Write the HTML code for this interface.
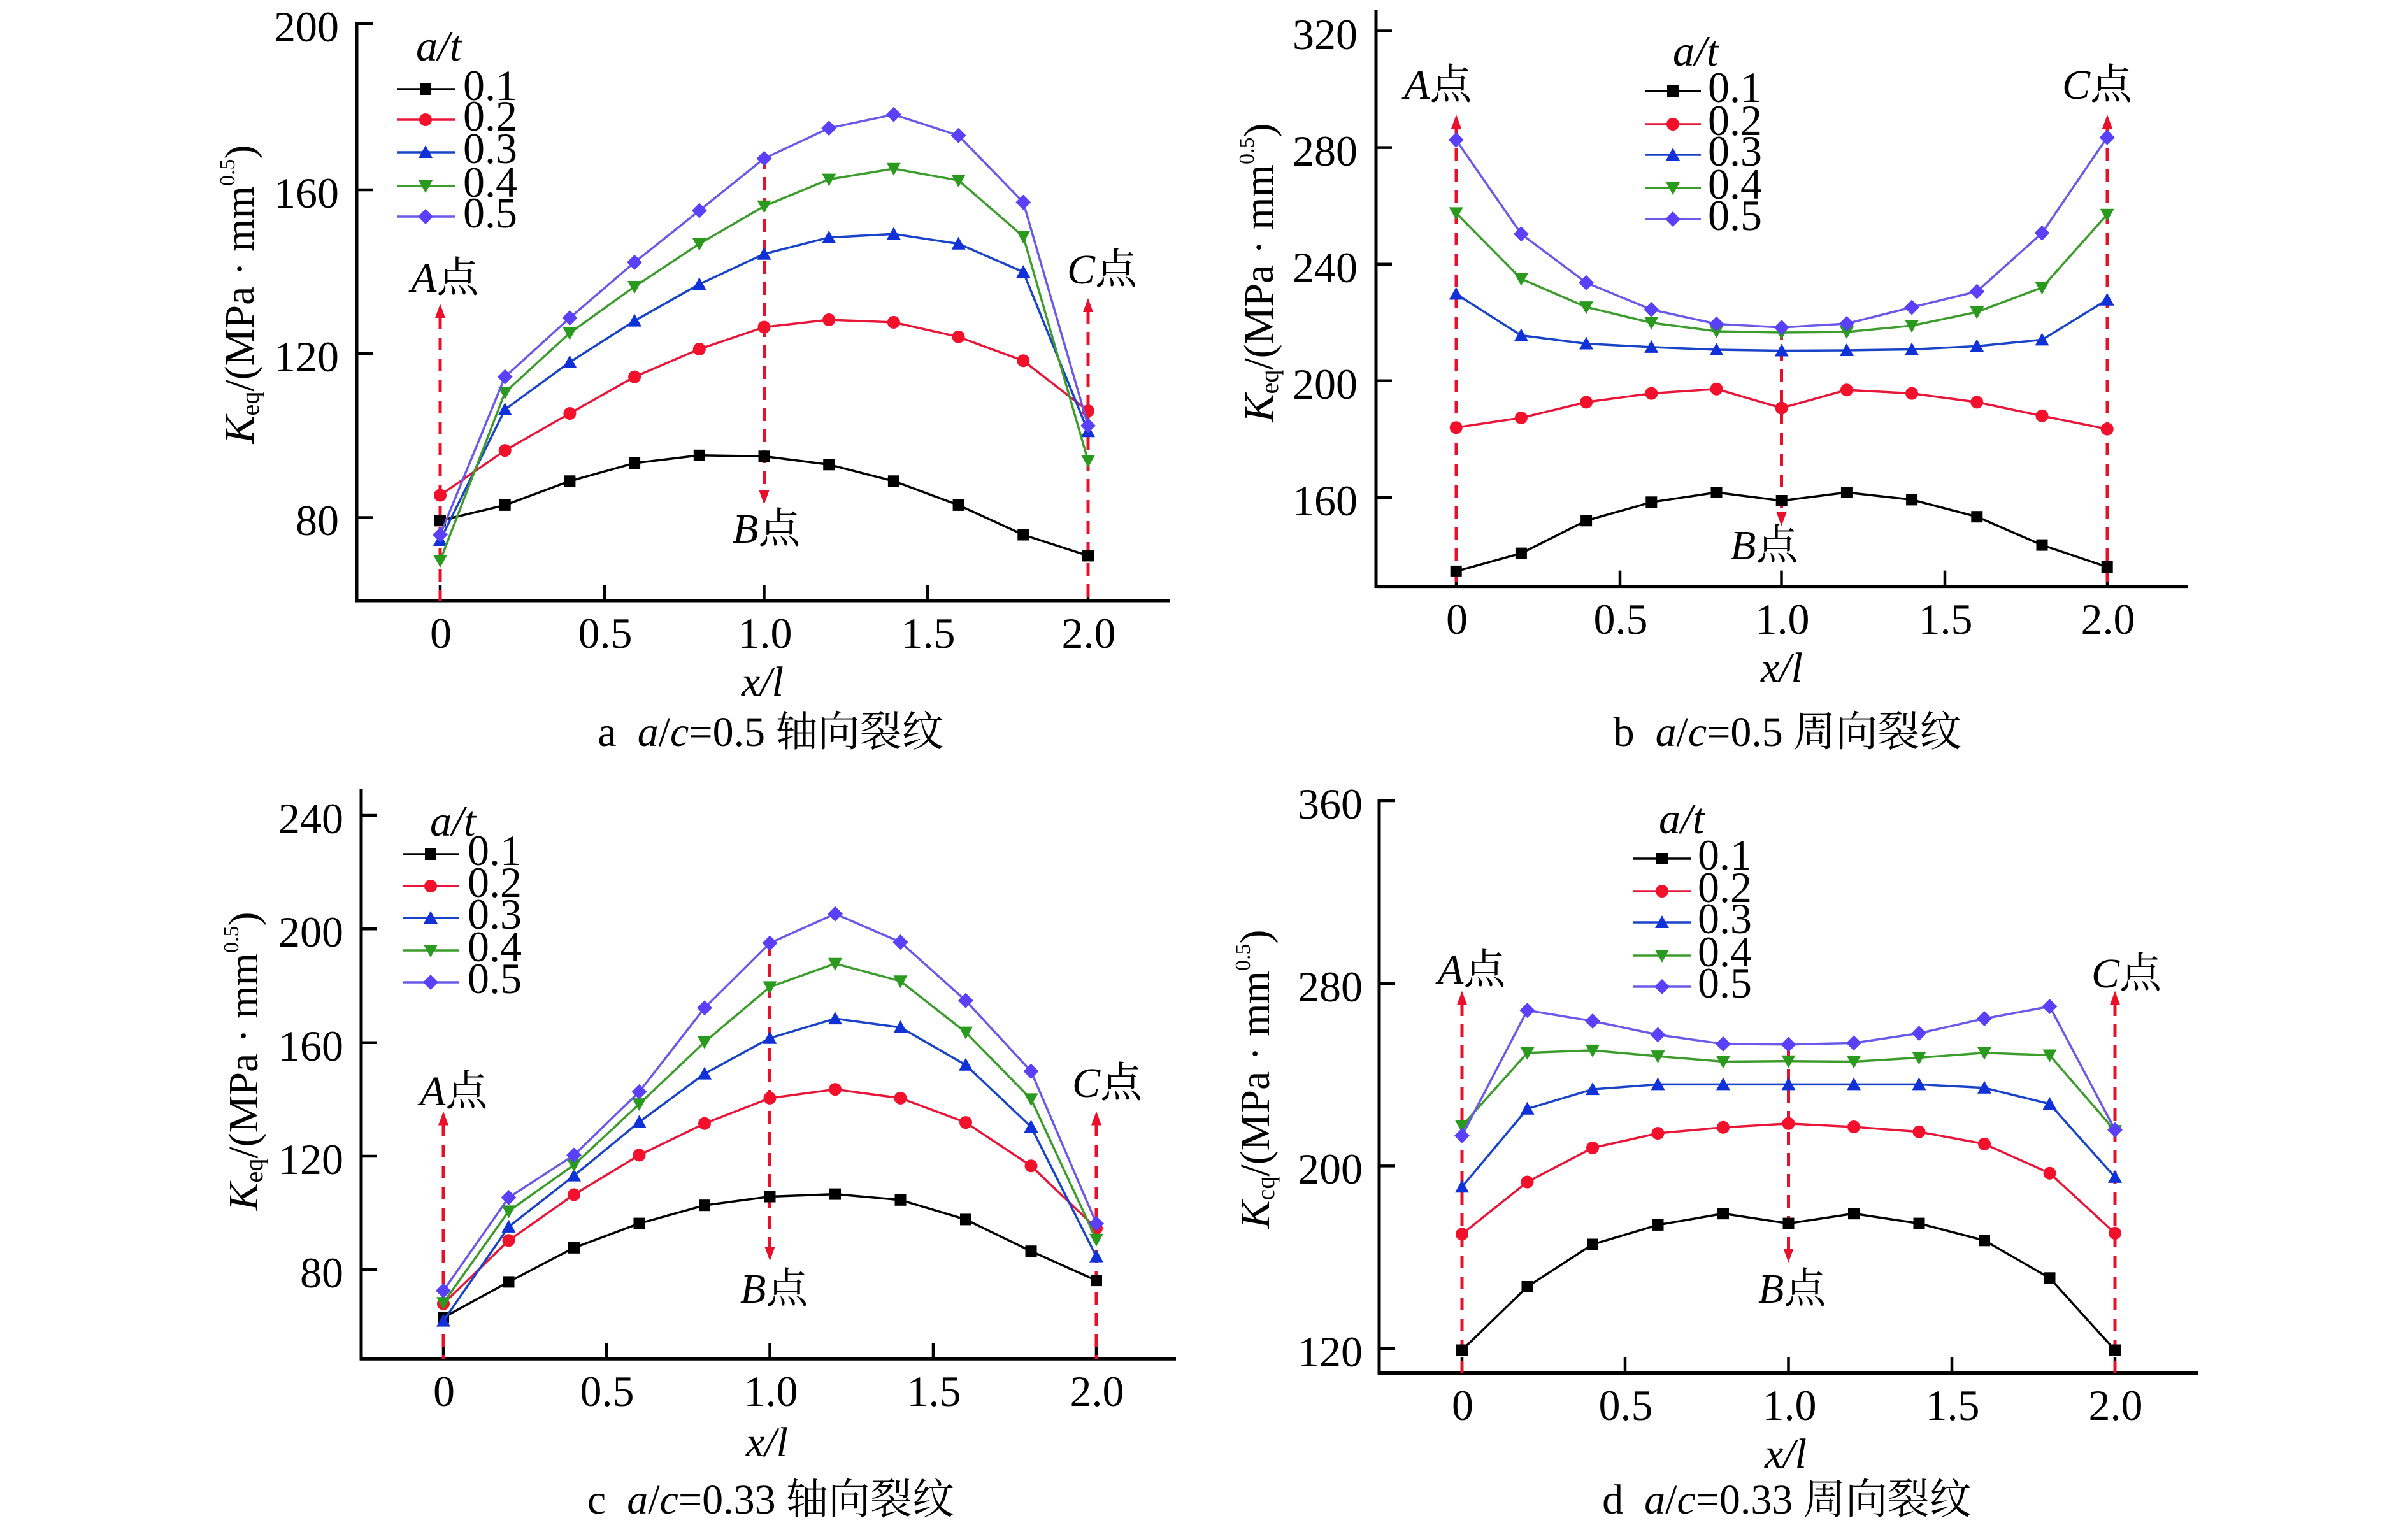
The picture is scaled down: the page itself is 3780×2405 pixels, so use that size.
<!DOCTYPE html>
<html><head><meta charset="utf-8"><style>
html,body{margin:0;padding:0;background:#fff;}
svg{display:block;}
text{font-family:"Liberation Serif","Noto Serif CJK SC",serif;fill:#000;}
.tk{font-size:68px;}
.lg{font-size:68px;}
.an{font-size:66px;}
.cap{font-size:66px;}
.yl{font-size:66px;}
.ax{stroke:#000;stroke-width:5;fill:none;}
.tick{stroke:#000;stroke-width:4.5;}
.dash{stroke:#e8102a;stroke-width:5;stroke-dasharray:20 13;fill:none;}
.arr{fill:#e8102a;}
.s1{stroke:#000;stroke-width:3.5;fill:none;marker-start:url(#mS);marker-mid:url(#mS);marker-end:url(#mS);}
.s2{stroke:#e8173a;stroke-width:3.5;fill:none;marker-start:url(#mC);marker-mid:url(#mC);marker-end:url(#mC);}
.s3{stroke:#1a44c8;stroke-width:3.5;fill:none;marker-start:url(#mT);marker-mid:url(#mT);marker-end:url(#mT);}
.s4{stroke:#3c9c2c;stroke-width:3.5;fill:none;marker-start:url(#mV);marker-mid:url(#mV);marker-end:url(#mV);}
.s5{stroke:#6a5ae8;stroke-width:3.5;fill:none;marker-start:url(#mD);marker-mid:url(#mD);marker-end:url(#mD);}
</style></head><body>
<svg xmlns="http://www.w3.org/2000/svg" width="3780" height="2405" viewBox="0 0 3780 2405">
<defs>
<marker id="mS" markerUnits="userSpaceOnUse" markerWidth="24" markerHeight="24" refX="12" refY="12" style="overflow:visible"><rect x="3" y="3" width="18" height="18" fill="#000"/></marker>
<marker id="mC" markerUnits="userSpaceOnUse" markerWidth="24" markerHeight="24" refX="12" refY="12" style="overflow:visible"><circle cx="12" cy="12" r="10" fill="#f2102a"/></marker>
<marker id="mT" markerUnits="userSpaceOnUse" markerWidth="24" markerHeight="24" refX="12" refY="12" style="overflow:visible"><path d="M12,1 L23,21 L1,21 Z" fill="#1030d8"/></marker>
<marker id="mV" markerUnits="userSpaceOnUse" markerWidth="24" markerHeight="24" refX="12" refY="12" style="overflow:visible"><path d="M1,3 L23,3 L12,23 Z" fill="#2a9a1e"/></marker>
<marker id="mD" markerUnits="userSpaceOnUse" markerWidth="24" markerHeight="24" refX="12" refY="12" style="overflow:visible"><path d="M12,0 L24,12 L12,24 L0,12 Z" fill="#5a40f8"/></marker>
</defs>
<rect x="0" y="0" width="3780" height="2405" fill="#fff"/>

<!-- ================= Panel a ================= -->
<g>
<path class="ax" d="M560,35 L560,945 M558,943 L1836,943"/>
<path class="tick" d="M560,37 H585 M560,298 H585 M560,555 H585 M560,812.5 H585 M691,943 V918 M949,943 V918 M1199.5,943 V918 M1456,943 V918 M1708,943 V918"/>
<g class="tk" text-anchor="end">
<text x="532" y="65">200</text><text x="532" y="326">160</text><text x="532" y="583">120</text><text x="532" y="840">80</text>
</g>
<g class="tk" text-anchor="middle">
<text x="692" y="1017">0</text><text x="950" y="1017">0.5</text><text x="1201" y="1017">1.0</text><text x="1457" y="1017">1.5</text><text x="1709" y="1017">2.0</text>
</g>
<text class="an" x="1197" y="1092" text-anchor="middle" font-style="italic">x/l</text>
<text class="cap" x="1210" y="1171" text-anchor="middle">a&#160;&#160;<tspan font-style="italic">a</tspan>/<tspan font-style="italic">c</tspan>=0.5 轴向裂纹</text>
<text class="yl" transform="translate(398,462) rotate(-90)" text-anchor="middle"><tspan font-style="italic">K</tspan><tspan font-size="40" dy="8">eq</tspan><tspan dy="-8">/(MPa · mm</tspan><tspan font-size="34" dy="-30">0.5</tspan><tspan dy="30">)</tspan></text>
<!-- arrows -->
<path class="dash" d="M691,497 V943 M1708,488 V943 M1199.5,245 V772"/>
<path class="arr" d="M691,477 L683,499 L699,499 Z M1708,468 L1700,490 L1716,490 Z M1199.5,792 L1191.5,770 L1207.5,770 Z"/>
<text class="an" x="645" y="458"><tspan font-style="italic">A</tspan>点</text>
<text class="an" x="1150" y="852"><tspan font-style="italic">B</tspan>点</text>
<text class="an" x="1675" y="445"><tspan font-style="italic">C</tspan>点</text>
<!-- series -->
<polyline class="s1" points="691,817.3 792.7,792.9 894.4,755.3 996.1,727 1097.8,714.8 1199.5,716.3 1301.2,729.3 1402.9,755.3 1504.6,792.9 1606.3,839.5 1708,872.4"/>
<polyline class="s2" points="691,777.5 792.7,707.1 894.4,649 996.1,591.6 1097.8,548 1199.5,513.5 1301.2,502 1402.9,505.9 1504.6,528.8 1606.3,566.3 1708,645.1"/>
<polyline class="s3" points="691,848 792.7,642.9 894.4,568.6 996.1,503.6 1097.8,446.2 1199.5,398.7 1301.2,372.7 1402.9,367.3 1504.6,382.7 1606.3,427 1708,677.3"/>
<polyline class="s4" points="691,880.1 792.7,616.1 894.4,522.7 996.1,450 1097.8,382.7 1199.5,323.7 1301.2,281.6 1402.9,264.8 1504.6,283.2 1606.3,371.2 1708,723.2"/>
<polyline class="s5" points="691,839.5 792.7,591.6 894.4,499 996.1,411.7 1097.8,330.6 1199.5,248.7 1301.2,201.3 1402.9,179.8 1504.6,212.8 1606.3,317.6 1708,668.1"/>
<!-- legend -->
<text class="lg" x="653" y="95" font-style="italic">a/t</text>
<polyline class="s1" style="marker-start:none;marker-end:none" points="623,140 668,140 715,140"/>
<polyline class="s2" style="marker-start:none;marker-end:none" points="623,188 668,188 715,188"/>
<polyline class="s3" style="marker-start:none;marker-end:none" points="623,239 668,239 715,239"/>
<polyline class="s4" style="marker-start:none;marker-end:none" points="623,292 668,292 715,292"/>
<polyline class="s5" style="marker-start:none;marker-end:none" points="623,340 668,340 715,340"/>
<g class="lg"><text x="727" y="157">0.1</text><text x="727" y="205">0.2</text><text x="727" y="256">0.3</text><text x="727" y="309">0.4</text><text x="727" y="357">0.5</text></g>
</g>

<!-- ================= Panel b ================= -->
<g>
<path class="ax" d="M2160,15 L2160,923 M2158,920.6 L3434,920.6"/>
<path class="tick" d="M2160,48.5 H2185 M2160,231.6 H2185 M2160,414.7 H2185 M2160,597.8 H2185 M2160,781 H2185 M2286,920.6 V895.6 M2543,920.6 V895.6 M2796.5,920.6 V895.6 M3053,920.6 V895.6 M3308,920.6 V895.6"/>
<g class="tk" text-anchor="end">
<text x="2131" y="77">320</text><text x="2131" y="260">280</text><text x="2131" y="443">240</text><text x="2131" y="626">200</text><text x="2131" y="809">160</text>
</g>
<g class="tk" text-anchor="middle">
<text x="2287" y="995">0</text><text x="2544" y="995">0.5</text><text x="2798" y="995">1.0</text><text x="3054" y="995">1.5</text><text x="3309" y="995">2.0</text>
</g>
<text class="an" x="2797" y="1070" text-anchor="middle" font-style="italic">x/l</text>
<text class="cap" x="2806" y="1171" text-anchor="middle">b&#160;&#160;<tspan font-style="italic">a</tspan>/<tspan font-style="italic">c</tspan>=0.5 周向裂纹</text>
<text class="yl" transform="translate(1998,428) rotate(-90)" text-anchor="middle"><tspan font-style="italic">K</tspan><tspan font-size="40" dy="8">eq</tspan><tspan dy="-8">/(MPa · mm</tspan><tspan font-size="34" dy="-30">0.5</tspan><tspan dy="30">)</tspan></text>
<path class="dash" d="M2286,200 V920 M3308,200 V920 M2796.5,514 V806"/>
<path class="arr" d="M2286,180 L2278,202 L2294,202 Z M3308,180 L3300,202 L3316,202 Z M2796.5,826 L2788.5,804 L2804.5,804 Z"/>
<text class="an" x="2204" y="155"><tspan font-style="italic">A</tspan>点</text>
<text class="an" x="2716" y="878"><tspan font-style="italic">B</tspan>点</text>
<text class="an" x="3237" y="155"><tspan font-style="italic">C</tspan>点</text>
<polyline class="s1" points="2285.7,896.9 2387.9,868.6 2490.1,817.3 2592.3,788.3 2694.5,773 2796.7,786 2898.9,773 3001.1,784.4 3103.3,811.2 3205.5,855.6 3307.7,890"/>
<polyline class="s2" points="2285.7,671.2 2387.9,655.9 2490.1,631.4 2592.3,617.6 2694.5,610.7 2796.7,640.6 2898.9,612.2 3001.1,617.6 3103.3,631.4 3205.5,652.8 3307.7,673.5"/>
<polyline class="s3" points="2285.7,461.5 2387.9,526.5 2490.1,539.5 2592.3,544.9 2694.5,549 2796.7,550.5 2898.9,550 3001.1,548.5 3103.3,543.4 3205.5,533.4 3307.7,470.7"/>
<polyline class="s4" points="2285.7,334.4 2387.9,437.8 2490.1,482.1 2592.3,506.6 2694.5,520 2796.7,522 2898.9,521 3001.1,511.2 3103.3,489.8 3205.5,451.5 3307.7,336.7"/>
<polyline class="s5" points="2285.7,219.6 2387.9,367.3 2490.1,443.9 2592.3,486 2694.5,508.5 2796.7,514 2898.9,508 3001.1,482.5 3103.3,457.6 3205.5,365.8 3307.7,215.8"/>
<text class="lg" x="2626" y="103" font-style="italic">a/t</text>
<polyline class="s1" style="marker-start:none;marker-end:none" points="2582,143 2626,143 2670,143"/>
<polyline class="s2" style="marker-start:none;marker-end:none" points="2582,195 2626,195 2670,195"/>
<polyline class="s3" style="marker-start:none;marker-end:none" points="2582,243 2626,243 2670,243"/>
<polyline class="s4" style="marker-start:none;marker-end:none" points="2582,295 2626,295 2670,295"/>
<polyline class="s5" style="marker-start:none;marker-end:none" points="2582,344 2626,344 2670,344"/>
<g class="lg"><text x="2681" y="160">0.1</text><text x="2681" y="212">0.2</text><text x="2681" y="260">0.3</text><text x="2681" y="312">0.4</text><text x="2681" y="361">0.5</text></g>
</g>

<!-- ================= Panel c ================= -->
<g>
<path class="ax" d="M567,1239 L567,2135.5 M565,2133.3 L1846,2133.3"/>
<path class="tick" d="M567,1280 H592 M567,1458.3 H592 M567,1636.7 H592 M567,1815 H592 M567,1993.3 H592 M696,2133.3 V2108.3 M952,2133.3 V2108.3 M1208.5,2133.3 V2108.3 M1465,2133.3 V2108.3 M1721,2133.3 V2108.3"/>
<g class="tk" text-anchor="end">
<text x="539" y="1308">240</text><text x="539" y="1486">200</text><text x="539" y="1665">160</text><text x="539" y="1843">120</text><text x="539" y="2021">80</text>
</g>
<g class="tk" text-anchor="middle">
<text x="697" y="2207">0</text><text x="953" y="2207">0.5</text><text x="1210" y="2207">1.0</text><text x="1466" y="2207">1.5</text><text x="1722" y="2207">2.0</text>
</g>
<text class="an" x="1204" y="2286" text-anchor="middle" font-style="italic">x/l</text>
<text class="cap" x="1210" y="2376" text-anchor="middle">c&#160;&#160;<tspan font-style="italic">a</tspan>/<tspan font-style="italic">c</tspan>=0.33 轴向裂纹</text>
<text class="yl" transform="translate(404,1666) rotate(-90)" text-anchor="middle"><tspan font-style="italic">K</tspan><tspan font-size="40" dy="8">eq</tspan><tspan dy="-8">/(MPa · mm</tspan><tspan font-size="34" dy="-30">0.5</tspan><tspan dy="30">)</tspan></text>
<path class="dash" d="M696,1764 V2133 M1721,1764 V2133 M1208.5,1480 V1960"/>
<path class="arr" d="M696,1744.5 L688,1766.5 L704,1766.5 Z M1721,1744.5 L1713,1766.5 L1729,1766.5 Z M1208.5,1979.5 L1200.5,1957.5 L1216.5,1957.5 Z"/>
<text class="an" x="659" y="1735"><tspan font-style="italic">A</tspan>点</text>
<text class="an" x="1162" y="2045"><tspan font-style="italic">B</tspan>点</text>
<text class="an" x="1683" y="1722"><tspan font-style="italic">C</tspan>点</text>
<polyline class="s1" points="696,2068.3 798.5,2012.4 901,1958.8 1003.5,1920.6 1106,1892.2 1208.5,1878.5 1311,1874.6 1413.5,1883.8 1516,1914.4 1618.5,1964.2 1721,2010.1"/>
<polyline class="s2" points="696,2046.8 798.5,1947.3 901,1875.4 1003.5,1813.4 1106,1763.7 1208.5,1723.9 1311,1710.1 1413.5,1723.9 1516,1762.1 1618.5,1830.3 1721,1928.2"/>
<polyline class="s3" points="696,2073.6 798.5,1925.9 901,1845.6 1003.5,1761.4 1106,1685.6 1208.5,1629.7 1311,1599.1 1413.5,1612.9 1516,1671.8 1618.5,1769 1721,1972.6"/>
<polyline class="s4" points="696,2045.3 798.5,1901.4 901,1828.7 1003.5,1733.1 1106,1635.9 1208.5,1549.4 1311,1512.7 1413.5,1540.2 1516,1620.6 1618.5,1725.4 1721,1945.8"/>
<polyline class="s5" points="696,2026.2 798.5,1880 901,1813.4 1003.5,1713.9 1106,1582.3 1208.5,1480.5 1311,1434.6 1413.5,1479 1516,1570.8 1618.5,1681.8 1721,1920.6"/>
<text class="lg" x="675" y="1312" font-style="italic">a/t</text>
<polyline class="s1" style="marker-start:none;marker-end:none" points="632,1341 676,1341 720,1341"/>
<polyline class="s2" style="marker-start:none;marker-end:none" points="632,1391 676,1391 720,1391"/>
<polyline class="s3" style="marker-start:none;marker-end:none" points="632,1441 676,1441 720,1441"/>
<polyline class="s4" style="marker-start:none;marker-end:none" points="632,1492 676,1492 720,1492"/>
<polyline class="s5" style="marker-start:none;marker-end:none" points="632,1542 676,1542 720,1542"/>
<g class="lg"><text x="734" y="1358">0.1</text><text x="734" y="1408">0.2</text><text x="734" y="1458">0.3</text><text x="734" y="1509">0.4</text><text x="734" y="1559">0.5</text></g>
</g>

<!-- ================= Panel d ================= -->
<g>
<path class="ax" d="M2165,1255 L2165,2157.7 M2163,2155.5 L3451,2155.5"/>
<path class="tick" d="M2165,1257 H2190 M2165,1543.7 H2190 M2165,1830.4 H2190 M2165,2117.2 H2190 M2295,2155.5 V2130.5 M2551,2155.5 V2130.5 M2807.5,2155.5 V2130.5 M3064,2155.5 V2130.5 M3320,2155.5 V2130.5"/>
<g class="tk" text-anchor="end">
<text x="2139" y="1285">360</text><text x="2139" y="1572">280</text><text x="2139" y="1858">200</text><text x="2139" y="2145">120</text>
</g>
<g class="tk" text-anchor="middle">
<text x="2296" y="2229">0</text><text x="2552" y="2229">0.5</text><text x="2809" y="2229">1.0</text><text x="3065" y="2229">1.5</text><text x="3321" y="2229">2.0</text>
</g>
<text class="an" x="2803" y="2304" text-anchor="middle" font-style="italic">x/l</text>
<text class="cap" x="2805" y="2376" text-anchor="middle">d&#160;&#160;<tspan font-style="italic">a</tspan>/<tspan font-style="italic">c</tspan>=0.33 周向裂纹</text>
<text class="yl" transform="translate(1992,1694) rotate(-90)" text-anchor="middle"><tspan font-style="italic">K</tspan><tspan font-size="40" dy="8">cq</tspan><tspan dy="-8">/(MPa · mm</tspan><tspan font-size="34" dy="-30">0.5</tspan><tspan dy="30">)</tspan></text>
<path class="dash" d="M2295,1575 V2155 M3320,1575 V2155 M2807.5,1645 V1962"/>
<path class="arr" d="M2295,1555.5 L2287,1577.5 L2303,1577.5 Z M3320,1555.5 L3312,1577.5 L3328,1577.5 Z M2807.5,1982 L2799.5,1960 L2815.5,1960 Z"/>
<text class="an" x="2257" y="1544"><tspan font-style="italic">A</tspan>点</text>
<text class="an" x="2760" y="2045"><tspan font-style="italic">B</tspan>点</text>
<text class="an" x="3283" y="1550"><tspan font-style="italic">C</tspan>点</text>
<polyline class="s1" points="2295,2119.5 2397.5,2020 2500,1953.5 2602.5,1922.9 2705,1905.2 2807.5,1920.6 2910,1905.2 3012.5,1920.6 3115,1947.3 3217.5,2006.3 3320,2119.5"/>
<polyline class="s2" points="2295,1937.4 2397.5,1855.5 2500,1802 2602.5,1779 2705,1769.8 2807.5,1763.7 2910,1769 3012.5,1776.7 3115,1795.8 3217.5,1841.7 3320,1935.9"/>
<polyline class="s3" points="2295,1863.2 2397.5,1740.7 2500,1710.1 2602.5,1702.4 2705,1702.4 2807.5,1702.4 2910,1702.4 3012.5,1702.4 3115,1707.8 3217.5,1733.1 3320,1847.9"/>
<polyline class="s4" points="2295,1767.5 2397.5,1652.7 2500,1648.9 2602.5,1658.1 2705,1666.5 2807.5,1665.7 2910,1666.5 3012.5,1660.4 3115,1652.7 3217.5,1656.5 3320,1775.1"/>
<polyline class="s5" points="2295,1782.8 2397.5,1586.1 2500,1603 2602.5,1624.4 2705,1638.9 2807.5,1639.7 2910,1637.4 3012.5,1622.1 3115,1599.1 3217.5,1580 3320,1773.6"/>
<text class="lg" x="2604" y="1308" font-style="italic">a/t</text>
<polyline class="s1" style="marker-start:none;marker-end:none" points="2563,1348 2609,1348 2655,1348"/>
<polyline class="s2" style="marker-start:none;marker-end:none" points="2563,1399 2609,1399 2655,1399"/>
<polyline class="s3" style="marker-start:none;marker-end:none" points="2563,1448 2609,1448 2655,1448"/>
<polyline class="s4" style="marker-start:none;marker-end:none" points="2563,1500 2609,1500 2655,1500"/>
<polyline class="s5" style="marker-start:none;marker-end:none" points="2563,1549 2609,1549 2655,1549"/>
<g class="lg"><text x="2665" y="1365">0.1</text><text x="2665" y="1416">0.2</text><text x="2665" y="1465">0.3</text><text x="2665" y="1517">0.4</text><text x="2665" y="1566">0.5</text></g>
</g>
</svg>
</body></html>
